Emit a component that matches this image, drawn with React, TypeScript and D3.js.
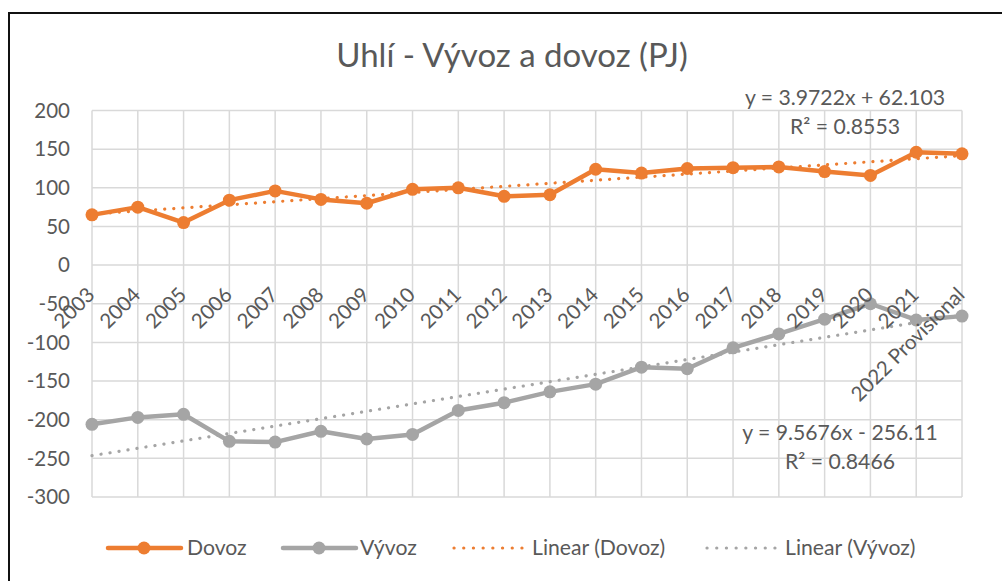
import React from "react";
import * as d3 from "d3";

const categories = ["2003","2004","2005","2006","2007","2008","2009","2010","2011","2012","2013","2014","2015","2016","2017","2018","2019","2020","2021","2022 Provisional"];
const dovoz = [65,75,55,84,96,85,80,98,100,89,91,124,119,125,126,127,121,116,146,144];
const vyvoz = [-206,-197,-193,-228,-229,-215,-225,-219,-188,-178,-164,-154,-132,-134,-107,-89,-70,-50,-71,-66];
const yTicks = [200,150,100,50,0,-50,-100,-150,-200,-250,-300];
const trendDovoz = { slope: 3.9722, intercept: 62.103, eq: "y = 3.9722x + 62.103", r2: "R² = 0.8553" };
const trendVyvoz = { slope: 9.5676, intercept: -256.11, eq: "y = 9.5676x - 256.11", r2: "R² = 0.8466" };
const title = "Uhlí - Vývoz a dovoz (PJ)";
const legendItems = [
  { label: "Dovoz", kind: "line", color: "#ED7D31" },
  { label: "Vývoz", kind: "line", color: "#A5A5A5" },
  { label: "Linear (Dovoz)", kind: "dot", color: "#ED7D31" },
  { label: "Linear (Vývoz)", kind: "dot", color: "#A5A5A5" },
];

const ORANGE = "#ED7D31";
const GRAY = "#A5A5A5";
const TEXT = "#595959";
const GRID = "#D9D9D9";
const FONT = "Lato, 'Open Sans', sans-serif";
const FS = 21.2;

export default function App() {
  const W = 1002, H = 581;
  const x = d3.scalePoint<string>().domain(categories).range([92, 962]);
  const y = d3.scaleLinear().domain([-300, 200]).range([497, 110.5]);
  const line = d3.line<number>().x((_, i) => x(categories[i])!).y(d => y(d));
  const trend = (t: { slope: number; intercept: number }) =>
    d3.line<string>().x(c => x(c)!).y((_, i) => y(t.slope * (i + 1) + t.intercept))(categories) as string;

  const legendX = [108, 283, 454, 707];
  const legendTextX = [187, 360, 532, 785];
  const legendY = 548;

  return (
    <svg width={W} height={H} style={{ position: "absolute", left: 0, top: 0, background: "#fff" }} fontFamily={FONT}>
      <rect x={0} y={0} width={W} height={H} fill="#fff" />
      <rect x={9} y={13} width={1100} height={700} fill="none" stroke="#111" strokeWidth={2} />
      <text x={512} y={67} textAnchor="middle" fontSize={33} fill={TEXT}>{title}</text>
      {/* gridlines */}
      {yTicks.map(t => (
        <line key={"h" + t} x1={92} x2={962} y1={y(t)} y2={y(t)} stroke={GRID} strokeWidth={1.5} />
      ))}
      {categories.map(c => (
        <line key={"v" + c} x1={x(c)} x2={x(c)} y1={y(200)} y2={y(-300)} stroke={GRID} strokeWidth={1.5} />
      ))}
      {yTicks.map(t => (
        <text key={"yt" + t} x={70} y={y(t)} dy="0.35em" textAnchor="end" fontSize={20.5} fill={TEXT}>{t}</text>
      ))}
      {/* series */}
      <path d={line(dovoz) as string} fill="none" stroke={ORANGE} strokeWidth={4.5} strokeLinejoin="round" />
      {dovoz.map((v, i) => (
        <circle key={"d" + i} cx={x(categories[i])} cy={y(v)} r={6.5} fill={ORANGE} />
      ))}
      <path d={line(vyvoz) as string} fill="none" stroke={GRAY} strokeWidth={4.5} strokeLinejoin="round" />
      {vyvoz.map((v, i) => (
        <circle key={"v" + i} cx={x(categories[i])} cy={y(v)} r={6.5} fill={GRAY} />
      ))}
      {/* trendlines */}
      <path d={trend(trendDovoz)} fill="none" stroke={ORANGE} strokeWidth={3.2} strokeDasharray="0.1 9" strokeLinecap="round" />
      <path d={trend(trendVyvoz)} fill="none" stroke={GRAY} strokeWidth={3.2} strokeDasharray="0.1 9" strokeLinecap="round" />
      <text x={845} y={105} textAnchor="middle" fontSize={FS} fill={TEXT}>{trendDovoz.eq}</text>
      <text x={845} y={134} textAnchor="middle" fontSize={FS} fill={TEXT}>{trendDovoz.r2}</text>
      <text x={840} y={440} textAnchor="middle" fontSize={FS} fill={TEXT}>{trendVyvoz.eq}</text>
      <text x={840} y={469} textAnchor="middle" fontSize={FS} fill={TEXT}>{trendVyvoz.r2}</text>
      {/* category labels */}
      {categories.map(c => {
        const ax = (x(c) as number) + 4;
        const ay = y(0) + 31;
        return (
          <text key={"xl" + c} x={ax} y={ay} textAnchor="end" fontSize={20.5} fill={TEXT} transform={`rotate(-45 ${ax} ${ay})`}>{c}</text>
        );
      })}
      {/* legend */}
      {legendItems.map((it, i) => (
        <g key={"lg" + i}>
          {it.kind === "line" ? (
            <g>
              <line x1={legendX[i]} x2={legendX[i] + 73} y1={legendY} y2={legendY} stroke={it.color} strokeWidth={4.5} strokeLinecap="round" />
              <circle cx={legendX[i] + 36} cy={legendY} r={6.5} fill={it.color} />
            </g>
          ) : (
            <line x1={legendX[i]} x2={legendX[i] + 68} y1={legendY} y2={legendY} stroke={it.color} strokeWidth={3.2} strokeDasharray="0.1 9.6" strokeLinecap="round" />
          )}
          <text x={legendTextX[i]} y={legendY} dy="0.35em" fontSize={FS} fill={TEXT}>{it.label}</text>
        </g>
      ))}
    </svg>
  );
}
